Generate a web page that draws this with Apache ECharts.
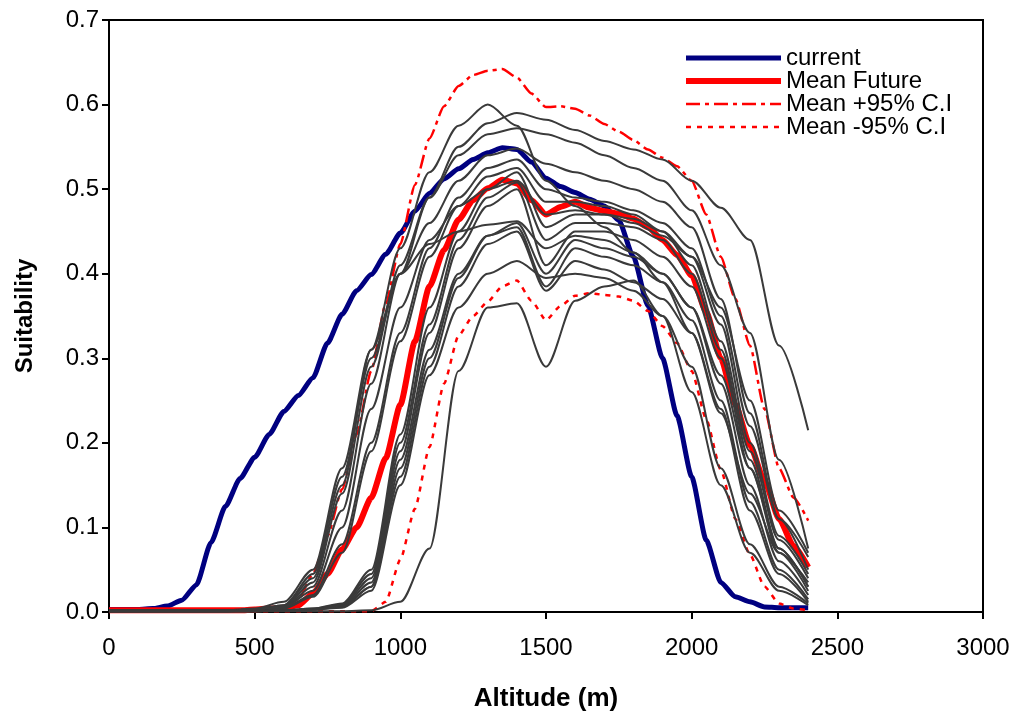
<!DOCTYPE html>
<html><head><meta charset="utf-8">
<script src="https://cdn.jsdelivr.net/npm/echarts@6/dist/echarts.min.js"></script>
<style>html,body{margin:0;padding:0;background:#fff}#c{width:1015px;height:715px}</style>
</head><body><div id="c"></div><script>
const ALT50 = [0,50,100,150,200,250,300,350,400,450,500,550,600,650,700,750,800,850,900,950,1000,1050,1100,1150,1200,1250,1300,1350,1400,1450,1500,1550,1600,1650,1700,1750,1800,1850,1900,1950,2000,2050,2100,2150,2200,2250,2300,2350,2400];
const ALT100 = [0,100,200,300,400,500,600,700,800,900,1000,1100,1200,1300,1400,1500,1600,1700,1800,1900,2000,2100,2200,2300,2400];

const current = [0.003,0.003,0.003,0.004,0.007,0.014,0.032,0.082,0.125,0.158,0.183,0.21,0.237,0.256,0.277,0.318,0.352,0.38,0.399,0.423,0.448,0.474,0.495,0.512,0.524,0.535,0.543,0.549,0.547,0.532,0.513,0.503,0.496,0.488,0.48,0.463,0.42,0.362,0.3,0.232,0.16,0.085,0.035,0.018,0.012,0.006,0.005,0.005,0.005];
const meanFuture = [0.002,0.002,0.002,0.002,0.002,0.002,0.002,0.002,0.002,0.002,0.003,0.004,0.005,0.008,0.022,0.045,0.074,0.1,0.135,0.182,0.245,0.32,0.385,0.428,0.464,0.487,0.501,0.511,0.507,0.487,0.47,0.479,0.485,0.478,0.474,0.471,0.465,0.455,0.44,0.422,0.398,0.355,0.3,0.245,0.197,0.155,0.11,0.078,0.053];
const meanPlus = [0.002,0.002,0.002,0.002,0.002,0.002,0.002,0.002,0.002,0.002,0.002,0.002,0.004,0.015,0.045,0.09,0.145,0.21,0.285,0.365,0.435,0.505,0.56,0.598,0.622,0.635,0.64,0.642,0.632,0.613,0.597,0.598,0.595,0.587,0.577,0.568,0.558,0.547,0.537,0.527,0.51,0.47,0.42,0.37,0.315,0.24,0.17,0.135,0.108];
const meanMinus = [0.001,0.001,0.001,0.001,0.001,0.001,0.001,0.001,0.001,0.001,0.001,0.001,0.001,0.001,0.001,0.001,0.001,0.001,0.001,0.012,0.062,0.122,0.195,0.27,0.327,0.35,0.367,0.385,0.392,0.368,0.345,0.362,0.374,0.377,0.375,0.373,0.368,0.356,0.338,0.318,0.285,0.228,0.168,0.11,0.068,0.03,0.01,0.004,0.002];

const models = [
 [0.002,0.002,0.002,0.002,0.002,0.003,0.008,0.04,0.15,0.31,0.43,0.52,0.575,0.60,0.575,0.51,0.48,0.455,0.425,0.39,0.33,0.235,0.14,0.07,0.035],
 [0.002,0.002,0.002,0.002,0.002,0.003,0.006,0.03,0.12,0.27,0.40,0.49,0.55,0.578,0.59,0.582,0.57,0.557,0.547,0.535,0.51,0.478,0.44,0.315,0.215],
 [0.002,0.002,0.002,0.002,0.002,0.003,0.007,0.035,0.14,0.29,0.41,0.49,0.54,0.565,0.572,0.565,0.555,0.54,0.525,0.51,0.475,0.41,0.33,0.18,0.075],
 [0.002,0.002,0.002,0.002,0.002,0.003,0.008,0.045,0.16,0.30,0.40,0.46,0.51,0.54,0.548,0.53,0.52,0.51,0.50,0.485,0.455,0.37,0.235,0.11,0.05],
 [0.002,0.002,0.002,0.002,0.002,0.004,0.012,0.05,0.17,0.31,0.40,0.435,0.45,0.458,0.462,0.43,0.445,0.44,0.425,0.40,0.36,0.28,0.17,0.075,0.03],
 [0.002,0.002,0.002,0.002,0.002,0.002,0.005,0.02,0.08,0.2,0.33,0.43,0.49,0.525,0.535,0.50,0.49,0.485,0.475,0.46,0.43,0.35,0.22,0.11,0.065],
 [0.002,0.002,0.002,0.002,0.002,0.002,0.004,0.018,0.07,0.19,0.32,0.42,0.48,0.515,0.525,0.485,0.485,0.48,0.47,0.45,0.41,0.32,0.19,0.085,0.04],
 [0.002,0.002,0.002,0.002,0.002,0.003,0.006,0.025,0.1,0.24,0.36,0.44,0.48,0.50,0.51,0.47,0.475,0.47,0.46,0.445,0.42,0.36,0.25,0.12,0.07],
 [0.001,0.001,0.001,0.001,0.001,0.002,0.002,0.004,0.01,0.05,0.21,0.36,0.45,0.50,0.52,0.455,0.47,0.47,0.465,0.45,0.42,0.34,0.2,0.09,0.045],
 [0.001,0.001,0.001,0.001,0.001,0.002,0.002,0.004,0.009,0.045,0.2,0.34,0.44,0.49,0.508,0.44,0.46,0.46,0.455,0.44,0.40,0.31,0.18,0.075,0.03],
 [0.001,0.001,0.001,0.001,0.001,0.002,0.002,0.003,0.008,0.04,0.19,0.33,0.43,0.48,0.50,0.41,0.45,0.45,0.44,0.42,0.385,0.30,0.17,0.07,0.025],
 [0.001,0.001,0.001,0.001,0.001,0.001,0.002,0.003,0.007,0.035,0.18,0.31,0.40,0.445,0.46,0.40,0.44,0.43,0.42,0.40,0.36,0.27,0.15,0.06,0.02],
 [0.001,0.001,0.001,0.001,0.001,0.001,0.002,0.003,0.006,0.03,0.17,0.30,0.395,0.445,0.455,0.385,0.43,0.42,0.41,0.39,0.345,0.25,0.13,0.05,0.015],
 [0.001,0.001,0.001,0.001,0.001,0.001,0.002,0.003,0.006,0.03,0.16,0.29,0.385,0.435,0.45,0.38,0.415,0.405,0.39,0.37,0.33,0.24,0.12,0.045,0.012],
 [0.001,0.001,0.001,0.001,0.001,0.001,0.002,0.003,0.005,0.025,0.15,0.28,0.36,0.40,0.415,0.395,0.40,0.395,0.38,0.35,0.29,0.17,0.08,0.03,0.01],
 [0.001,0.001,0.001,0.001,0.001,0.001,0.001,0.001,0.001,0.002,0.012,0.075,0.285,0.36,0.365,0.29,0.368,0.385,0.392,0.35,0.26,0.15,0.07,0.025,0.008]
];

const FONT = '"Liberation Sans", Arial, sans-serif';
const pairs = (xs, ys) => xs.map((x, i) => [x, ys[i]]);

const mainStyles = [
  {name:'current', data:current, color:'#000080', width:5, type:'solid'},
  {name:'Mean Future', data:meanFuture, color:'#ff0000', width:6, type:'solid'},
  {name:'Mean +95% C.I', data:meanPlus, color:'#ff0000', width:2.5, type:[14,5,4,5]},
  {name:'Mean -95% C.I', data:meanMinus, color:'#ff0000', width:2.5, type:[5,6]}
];

const series = mainStyles.map(s => ({
  type:'line', name:s.name, data:pairs(ALT50, s.data), symbol:'none', smooth:0.2, smoothMonotone:'x',
  lineStyle:{color:s.color, width:s.width, type:s.type}, itemStyle:{color:s.color}
}));

models.forEach((m, i) => {
  series.push({type:'line', name:'model'+(i+1), data:pairs(ALT100,m), symbol:'none', smooth:0.3, smoothMonotone:'x',
    lineStyle:{color:'#3a3a3a', width:2}, itemStyle:{color:'#3a3a3a'}});
});

const chart = echarts.init(document.getElementById('c'), null, {renderer:'canvas'});
chart.setOption({
  animation:false,
  backgroundColor:'#fff',
  textStyle:{fontFamily:FONT, color:'#000'},
  grid:{left:109, right:32, top:20, bottom:103, show:true, borderColor:'#000', borderWidth:2, containLabel:false, outerBoundsMode:'none'},
  legend:{
    data:mainStyles.map(s => ({name:s.name, itemStyle:{opacity:0}, lineStyle:{color:s.color, width:s.width, type:s.type}})),
    orient:'vertical', left:683, top:46, padding:0, itemWidth:95, itemHeight:12, itemGap:-1,
    textStyle:{fontFamily:FONT, fontSize:24, lineHeight:22, color:'#000'},
    selectedMode:false
  },
  xAxis:{
    type:'value', min:0, max:3000, interval:500,
    name:'Altitude (m)', nameLocation:'middle', nameGap:74,
    nameTextStyle:{fontFamily:FONT, fontSize:26, fontWeight:'bold', color:'#000'},
    axisLine:{show:true, lineStyle:{color:'#000', width:2}},
    axisTick:{show:true, inside:false, length:7, lineStyle:{color:'#000', width:2}},
    axisLabel:{fontFamily:FONT, fontSize:24, color:'#000', margin:24, formatter:v => String(v)},
    splitLine:{show:false}
  },
  yAxis:{
    type:'value', min:0, max:0.7, interval:0.1,
    name:'Suitability', nameLocation:'middle', nameGap:72,
    nameTextStyle:{fontFamily:FONT, fontSize:24, fontWeight:'bold', color:'#000'},
    axisLine:{show:true, lineStyle:{color:'#000', width:2}},
    axisTick:{show:true, inside:false, length:7, lineStyle:{color:'#000', width:2}},
    axisLabel:{fontFamily:FONT, fontSize:24, color:'#000', margin:10, formatter:v => v.toFixed(1)},
    splitLine:{show:false}
  },
  series:series
});
</script></body></html>
